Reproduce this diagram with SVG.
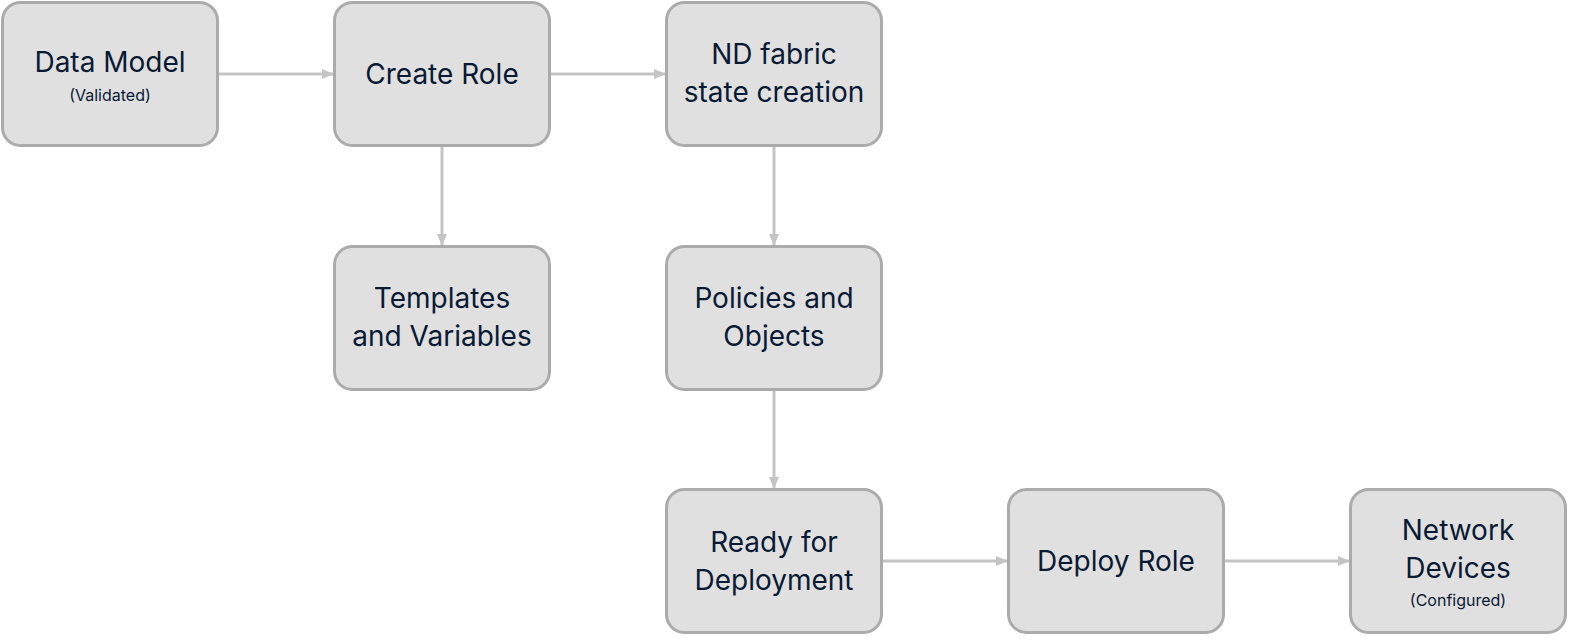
<svg xmlns="http://www.w3.org/2000/svg" width="1582" height="642" viewBox="0 0 1582 642">
<style>
.n rect{fill:#e0e0e0;stroke:#ababab;stroke-width:3}
.n text{font-family:"Inter","Liberation Sans",sans-serif;fill:#0b1a33;font-size:28px;text-anchor:middle}
.n text.s{font-size:16px}
.c line{stroke:#c4c4c4;stroke-width:3}
</style>
<defs><marker id="a" markerWidth="12" markerHeight="10" refX="11" refY="5" orient="auto" markerUnits="userSpaceOnUse"><path d="M0,0L12,5L0,10z" fill="#c4c4c4"/></marker></defs>
<rect width="1582" height="642" fill="#fff"/>
<g class="c">
<line x1="218" y1="74" x2="333" y2="74" marker-end="url(#a)"/>
<line x1="550" y1="74" x2="665" y2="74" marker-end="url(#a)"/>
<line x1="442" y1="146" x2="442" y2="245" marker-end="url(#a)"/>
<line x1="774" y1="146" x2="774" y2="245" marker-end="url(#a)"/>
<line x1="774" y1="389" x2="774" y2="488" marker-end="url(#a)"/>
<line x1="882" y1="561" x2="1007" y2="561" marker-end="url(#a)"/>
<line x1="1224" y1="561" x2="1349" y2="561" marker-end="url(#a)"/>
</g>
<g id="n1" class="n"><rect x="2.5" y="2.5" width="215" height="143" rx="18"/><text x="110" y="72">Data Model</text><text class="s" x="110" y="101">(Validated)</text></g>
<g id="n2" class="n"><rect x="334.5" y="2.5" width="215" height="143" rx="18"/><text x="442" y="84">Create Role</text></g>
<g id="n3" class="n"><rect x="666.5" y="2.5" width="215" height="143" rx="18"/><text x="774" y="64">ND fabric</text><text x="774" y="102">state creation</text></g>
<g id="n4" class="n"><rect x="334.5" y="246.5" width="215" height="143" rx="18"/><text x="442" y="308">Templates</text><text x="442" y="346">and Variables</text></g>
<g id="n5" class="n"><rect x="666.5" y="246.5" width="215" height="143" rx="18"/><text x="774" y="308">Policies and</text><text x="774" y="346">Objects</text></g>
<g id="n6" class="n"><rect x="666.5" y="489.5" width="215" height="143" rx="18"/><text x="774" y="552">Ready for</text><text x="774" y="590">Deployment</text></g>
<g id="n7" class="n"><rect x="1008.5" y="489.5" width="215" height="143" rx="18"/><text x="1116" y="571">Deploy Role</text></g>
<g id="n8" class="n"><rect x="1350.5" y="489.5" width="215" height="143" rx="18"/><text x="1458" y="540">Network</text><text x="1458" y="578">Devices</text><text class="s" x="1458" y="606">(Configured)</text></g>
</svg>
